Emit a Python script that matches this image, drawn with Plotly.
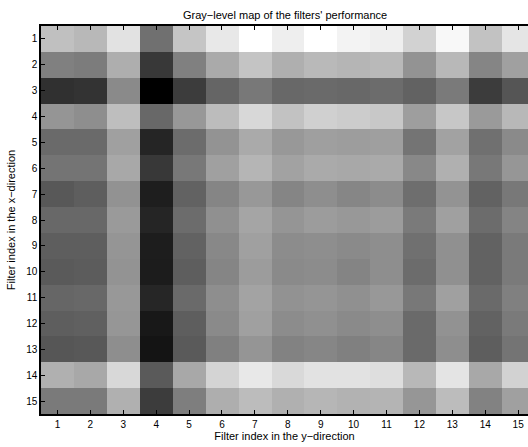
import plotly.graph_objects as go

# Gray levels (0 = black, 255 = white) for each filter pair
x_index = list(range(1, 16))   # filter index in the y-direction (columns)
y_index = list(range(1, 16))   # filter index in the x-direction (rows)

row01 = [0xC0, 0xB8, 0xE2, 0x70, 0xC5, 0xE8, 0xFF, 0xEE, 0xFF, 0xF3, 0xEF, 0xD2, 0xF8, 0xC2, 0xE5]
row02 = [0x80, 0x7C, 0xAE, 0x38, 0x80, 0xAA, 0xC4, 0xAF, 0xB9, 0xB5, 0xB9, 0x93, 0xB8, 0x85, 0xA0]
row03 = [0x30, 0x33, 0x8A, 0x00, 0x3C, 0x65, 0x78, 0x68, 0x6A, 0x68, 0x6C, 0x62, 0x7A, 0x3C, 0x55]
row04 = [0x95, 0x8E, 0xBE, 0x68, 0x98, 0xBC, 0xD8, 0xC2, 0xD0, 0xCC, 0xC8, 0x9E, 0xC7, 0x9A, 0xB8]
row05 = [0x6A, 0x6A, 0xA0, 0x25, 0x6C, 0x93, 0xAA, 0x98, 0x9F, 0x9D, 0x9F, 0x74, 0xA2, 0x70, 0x8A]
row06 = [0x74, 0x74, 0xA8, 0x38, 0x78, 0xA0, 0xB5, 0xA2, 0xAA, 0xA8, 0xAA, 0x88, 0xB0, 0x78, 0x96]
row07 = [0x58, 0x5E, 0x92, 0x1E, 0x62, 0x85, 0x98, 0x85, 0x8E, 0x86, 0x8C, 0x6E, 0x93, 0x62, 0x78]
row08 = [0x68, 0x68, 0x9A, 0x25, 0x6C, 0x90, 0xA5, 0x95, 0x9C, 0x98, 0x9C, 0x7A, 0xA0, 0x6C, 0x84]
row09 = [0x5E, 0x5E, 0x95, 0x1D, 0x62, 0x88, 0xA0, 0x8C, 0x8E, 0x8A, 0x8E, 0x70, 0x90, 0x62, 0x7A]
row10 = [0x5A, 0x5C, 0x93, 0x1C, 0x5E, 0x85, 0x9C, 0x8A, 0x8C, 0x84, 0x8E, 0x6C, 0x90, 0x62, 0x7A]
row11 = [0x66, 0x68, 0x98, 0x26, 0x6A, 0x8E, 0xA3, 0x92, 0x95, 0x90, 0x98, 0x78, 0xA0, 0x6A, 0x80]
row12 = [0x5E, 0x60, 0x96, 0x18, 0x5E, 0x8A, 0xA0, 0x8C, 0x90, 0x8A, 0x8E, 0x6A, 0x92, 0x62, 0x7A]
row13 = [0x56, 0x58, 0x8E, 0x14, 0x5A, 0x80, 0x95, 0x82, 0x86, 0x80, 0x86, 0x6A, 0x8E, 0x5E, 0x74]
row14 = [0xB0, 0xA8, 0xD8, 0x5A, 0xA8, 0xD4, 0xE8, 0xD9, 0xE2, 0xE2, 0xDE, 0xB8, 0xE4, 0xA8, 0xD2]
row15 = [0x7A, 0x7A, 0xB0, 0x3C, 0x7E, 0xAE, 0xBC, 0xB0, 0xB6, 0xB2, 0xB4, 0x96, 0xBC, 0x82, 0xA0]

gray_levels = [row01, row02, row03, row04, row05, row06, row07, row08,
               row09, row10, row11, row12, row13, row14, row15]

title_text = "Gray\u2212level map of the filters' performance"
x_title = "Filter index in the y\u2212direction"
y_title = "Filter index in the x\u2212direction"

fig = go.Figure(go.Heatmap(
    z=gray_levels, x=x_index, y=y_index,
    colorscale=[[0, "rgb(0,0,0)"], [1, "rgb(255,255,255)"]],
    zmin=0, zmax=255, showscale=False, hoverinfo="skip",
))

font = dict(family="Liberation Sans, Arial, sans-serif", size=10, color="black")

fig.update_layout(
    width=528, height=447,
    margin=dict(l=41, r=0, t=26, b=33),
    paper_bgcolor="white", plot_bgcolor="white",
    font=font,
    title=dict(text=title_text, x=0.54, xanchor="center", y=0.967, yanchor="middle",
               font=dict(size=11)),
)
fig.update_xaxes(
    range=[0.5, 15.3], tickmode="array", tickvals=x_index,
    ticktext=[str(v) for v in x_index],
    ticks="inside", ticklen=4, tickwidth=1, tickcolor="black",
    showline=True, linecolor="black", linewidth=1.5, mirror="ticks",
    showgrid=False, zeroline=False,
    title=dict(text=x_title, standoff=2, font=dict(size=11)),
)
fig.update_yaxes(
    range=[15.5, 0.5], tickmode="array", tickvals=y_index,
    ticktext=[str(v) for v in y_index],
    ticks="inside", ticklen=4, tickwidth=1, tickcolor="black",
    showline=True, linecolor="black", linewidth=1.5, mirror=False,
    showgrid=False, zeroline=False,
    title=dict(text=y_title, standoff=8, font=dict(size=11)),
)

fig.write_html("out.html")
